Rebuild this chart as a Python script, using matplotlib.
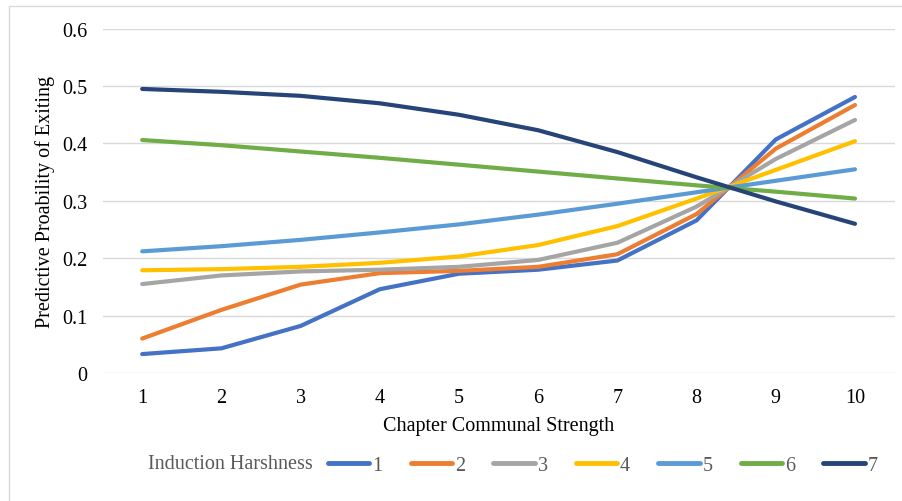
import numpy as np
import matplotlib
matplotlib.use("Agg")
from matplotlib import pyplot as plt
from matplotlib.patches import Rectangle

plt.rcParams['font.family'] = ['Liberation Serif', 'DejaVu Serif']

strength = [1, 2, 3, 4, 5, 6, 7, 8, 9, 10]
harsh_1 = [0.033, 0.043, 0.082, 0.146, 0.173, 0.180, 0.196, 0.266, 0.407, 0.481]
harsh_2 = [0.060, 0.110, 0.154, 0.174, 0.178, 0.185, 0.207, 0.277, 0.391, 0.467]
harsh_3 = [0.155, 0.170, 0.177, 0.180, 0.185, 0.197, 0.227, 0.290, 0.373, 0.441]
harsh_4 = [0.179, 0.181, 0.185, 0.192, 0.203, 0.223, 0.256, 0.304, 0.354, 0.404]
harsh_5 = [0.212, 0.221, 0.232, 0.245, 0.259, 0.276, 0.295, 0.315, 0.335, 0.355]
harsh_6 = [0.406, 0.397, 0.386, 0.375, 0.363, 0.351, 0.339, 0.327, 0.316, 0.304]
harsh_7 = [0.495, 0.490, 0.483, 0.470, 0.450, 0.423, 0.385, 0.341, 0.299, 0.260]
labels = ['1', '2', '3', '4', '5', '6', '7']
colors = ['#4472C4', '#ED7D31', '#A5A5A5', '#FFC000', '#5B9BD5', '#70AD47', '#264478']

fig = plt.figure(figsize=(9.03, 5.02), dpi=100)
ax = fig.add_axes([102.6/903, 1 - 374/502, 792/903, (374 - 29.7)/502])

x = np.arange(len(strength))
for ys, lab, c in zip([harsh_1, harsh_2, harsh_3, harsh_4, harsh_5, harsh_6, harsh_7], labels, colors):
    ax.plot(x, ys, color=c, lw=3, solid_capstyle='round', label=lab)

ax.set_xlim(-0.5, len(strength) - 0.5)
ax.set_ylim(0, 0.6)
ax.set_xticks(x)
ax.set_xticklabels([str(s) for s in strength])
ax.set_yticks([0, 0.1, 0.2, 0.3, 0.4, 0.5, 0.6])
ax.set_yticklabels(['0', '0.1', '0.2', '0.3', '0.4', '0.5', '0.6'])
ax.tick_params(length=0, labelsize=14.5, colors='black')
ax.tick_params(axis='x', pad=11)
ax.tick_params(axis='y', pad=11)
ax.grid(axis='y', color='#D9D9D9', lw=1)
ax.set_axisbelow(True)
for s in ax.spines.values():
    s.set_visible(False)

ax.set_xlabel('Chapter Communal Strength', fontsize=14.5, labelpad=6)
ax.set_ylabel('Predictive Proability of Exiting', fontsize=14.5, labelpad=5)

fig.text(148/903, 1 - 465/502, 'Induction Harshness', fontsize=14.5,
         color='#595959', va='center', ha='left')
leg = fig.legend(loc='center left', bbox_to_anchor=(328/903, 1 - 466/502), ncol=7,
                 frameon=False, fontsize=14.5, handlelength=2.05, handletextpad=0.15,
                 columnspacing=1.4, borderaxespad=0, borderpad=0)
for t in leg.get_texts():
    t.set_color('#595959')
for h in leg.get_lines():
    h.set_linewidth(3.5)
    h.set_solid_capstyle('round')

fig.patches.append(Rectangle((9/903, -0.1), 1.2, 1.1 - 7/502, transform=fig.transFigure,
                             fill=False, edgecolor='#D9D9D9', lw=1))

fig.savefig('out.png', dpi=100)
